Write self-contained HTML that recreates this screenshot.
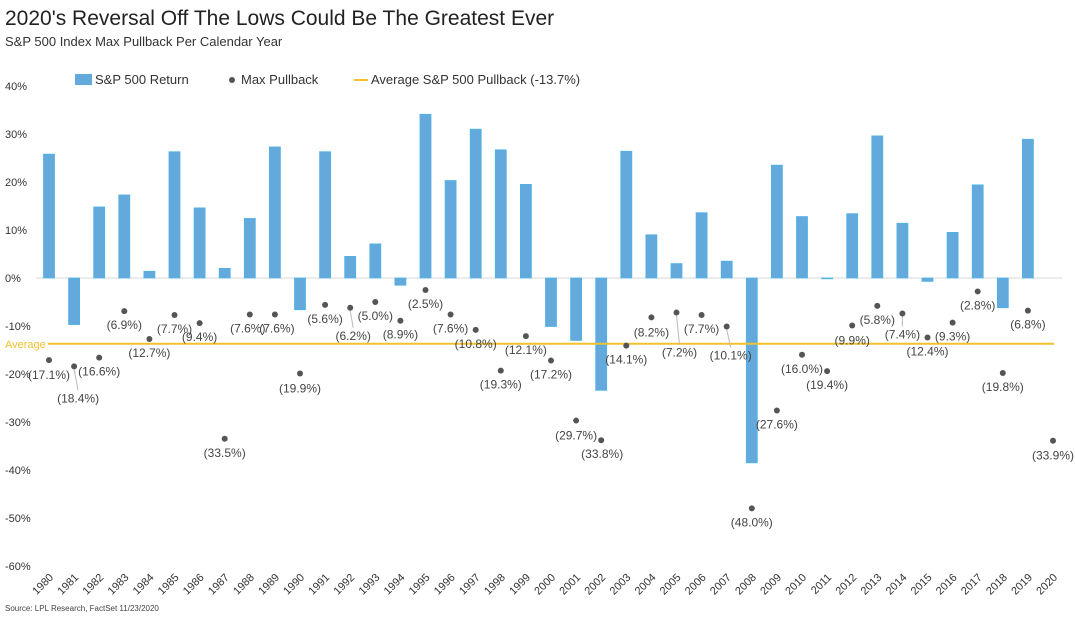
<!DOCTYPE html>
<html><head><meta charset="utf-8"><style>
body{margin:0;background:#fff;width:1075px;height:615px;overflow:hidden;font-family:"Liberation Sans",sans-serif}
svg text{font-family:"Liberation Sans",sans-serif}
</style></head><body>
<svg id="c" width="1075" height="615">
<text x="5" y="25" font-size="21" fill="#222">2020's Reversal Off The Lows Could Be The Greatest Ever</text>
<text x="5" y="46" font-size="13" fill="#333">S&amp;P 500 Index Max Pullback Per Calendar Year</text>
<g>
<rect x="75" y="74" width="17" height="11" fill="#64a9dc"/>
<text x="95" y="84" font-size="13" fill="#333">S&amp;P 500 Return</text>
<circle cx="232" cy="80" r="3" fill="#555"/>
<text x="241" y="84" font-size="13" fill="#333">Max Pullback</text>
<line x1="354" y1="80" x2="368" y2="80" stroke="#F2C12E" stroke-width="2"/>
<text x="371" y="84" font-size="13" fill="#333">Average S&amp;P 500 Pullback (-13.7%)</text>
</g>
<g id="axes"></g><g id="bars"></g><g id="avg"></g><g id="pts"></g>
<text x="5" y="611" font-size="8" fill="#444">Source: LPL Research, FactSet 11/23/2020</text>
</svg>
<script>
const years=[1980,1981,1982,1983,1984,1985,1986,1987,1988,1989,1990,1991,1992,1993,1994,1995,1996,1997,1998,1999,2000,2001,2002,2003,2004,2005,2006,2007,2008,2009,2010,2011,2012,2013,2014,2015,2016,2017,2018,2019,2020];
const returns=[25.8,-9.7,14.8,17.3,1.4,26.3,14.6,2.0,12.4,27.3,-6.6,26.3,4.5,7.1,-1.5,34.1,20.3,31.0,26.7,19.5,-10.1,-13.0,-23.4,26.4,9.0,3.0,13.6,3.5,-38.5,23.5,12.8,0.0,13.4,29.6,11.4,-0.7,9.5,19.4,-6.2,28.9,null];
const pullbacks=[17.1,18.4,16.6,6.9,12.7,7.7,9.4,33.5,7.6,7.6,19.9,5.6,6.2,5.0,8.9,2.5,7.6,10.8,19.3,12.1,17.2,29.7,33.8,14.1,8.2,7.2,7.7,10.1,48.0,27.6,16.0,19.4,9.9,5.8,7.4,12.4,9.3,2.8,19.8,6.8,33.9];
const average=-13.7;
const yTicks=[40,30,20,10,0,-10,-20,-30,-40,-50,-60];
// label placement offsets (styling only)
const lblDx=[0,4,0,0,0,0,0,0,-2,2,0,0,3,0,0,0,0,0,0,0,0,0,1,0,0,3,0,4,0,0,0,0,0,0,0,0,0,0,0,0,0];
const lblDy=[15,32,14,14,14,14,14,14,14,14,15,14,28,14,14,14,14,14,14,14,14,15,14,14,15,40,14,29,14,14,14,14,15,14,21,14,14,14,14,14,15];
const NS="http://www.w3.org/2000/svg";
const x=i=>49+i*25.1, y=v=>278-v*4.8;
function mk(p,t,a){const e=document.createElementNS(NS,t);for(const k in a)e.setAttribute(k,a[k]);document.getElementById(p).appendChild(e);return e;}
yTicks.forEach(t=>{
 const e=mk('axes','text',{x:5,y:y(t)+4,'font-size':11,fill:'#333'});
 e.textContent=t+'%';
 
 
});
const ax=mk('axes','line',{x1:36,x2:1062,y1:y(0),y2:y(0),stroke:'#d9d9d9','stroke-width':1});


years.forEach((yr,i)=>{
 const e=mk('axes','text',{x:0,y:0,'font-size':11,fill:'#333','text-anchor':'end',transform:`translate(${x(i)+5},578) rotate(-45)`});
 e.textContent=yr;
 
 
});
returns.forEach((v,i)=>{
 if(v===null)return;
 const t=Math.min(y(0),y(v)),h=Math.max(Math.abs(y(v)-y(0)),0.8);
 const b=mk('bars','rect',{x:x(i)-5.5,y:t,width:11,height:h,fill:'#64a9dc',stroke:'#4fb3e6','stroke-width':0.8});
 
 
});
const al=mk('avg','line',{x1:48,x2:1054,y1:y(average),y2:y(average),stroke:'#F2C12E','stroke-width':2});


const at=mk('avg','text',{x:5,y:y(average)+4,'font-size':11,fill:'#F2C12E'});
at.textContent='Average';


pullbacks.forEach((v,i)=>{
 const cx=x(i),cy=y(-v),lx=cx+lblDx[i],ly=cy+lblDy[i];
 if(lblDy[i]>20){
  const ln=mk('pts','line',{x1:cx,y1:cy+3,x2:lx,y2:ly-8,stroke:'#bbb','stroke-width':1});
  
  
 }
 const c=mk('pts','circle',{cx:cx,cy:cy,r:3,fill:'#555'});
 
 
 const t=mk('pts','text',{x:lx,y:ly+4,'font-size':12,fill:'#444','text-anchor':'middle'});
 t.textContent='('+v.toFixed(1)+'%)';
 
 
});
</script>
</body></html>
